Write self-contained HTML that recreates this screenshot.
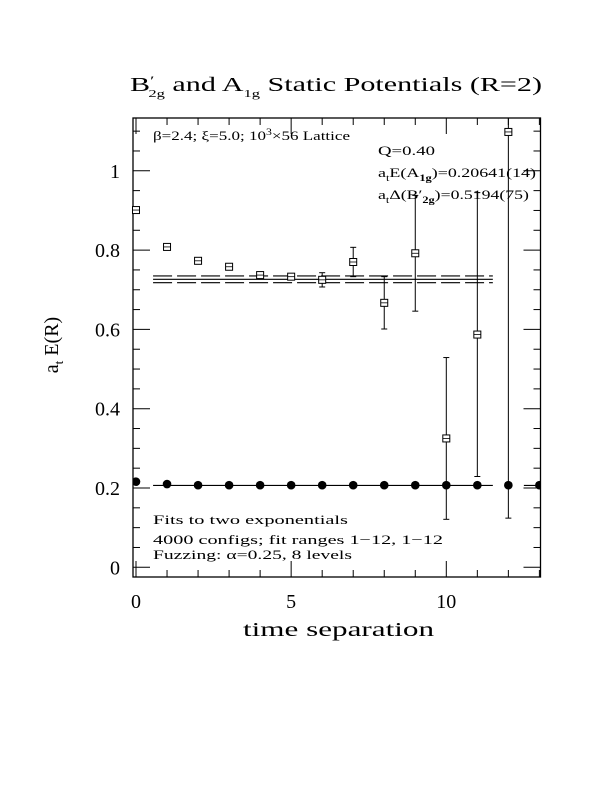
<!DOCTYPE html>
<html><head><meta charset="utf-8"><style>
body{margin:0;background:#fff;}
svg text{font-family:"Liberation Serif",serif;fill:#000;}
</style></head><body>
<svg id="chart" width="612" height="792" viewBox="0 0 612 792" xmlns="http://www.w3.org/2000/svg">
<text x="130" y="91" font-size="20" textLength="412" lengthAdjust="spacingAndGlyphs">B<tspan dy="-6" font-size="13">′</tspan><tspan dy="12" dx="-4" font-size="11">2g</tspan><tspan dy="-6"> and A</tspan><tspan dy="6" font-size="11">1g</tspan><tspan dy="-6"> Static Potentials (R=2)</tspan></text>
<g id="plot"></g>
<text x="243" y="636" font-size="20" textLength="191" lengthAdjust="spacingAndGlyphs">time separation</text>
<text transform="translate(58,345) rotate(-90)" font-size="20" text-anchor="middle">a<tspan dy="5" font-size="13">t</tspan><tspan dy="-5"> E(R)</tspan></text>
<text x="153" y="140" font-size="13" textLength="197" lengthAdjust="spacingAndGlyphs">β=2.4; ξ=5.0; 10<tspan dy="-5" font-size="9">3</tspan><tspan dy="5">×56 Lattice</tspan></text>
<text x="378" y="155" font-size="13" textLength="57" lengthAdjust="spacingAndGlyphs">Q=0.40</text>
<text x="378" y="177" font-size="13" textLength="158" lengthAdjust="spacingAndGlyphs">a<tspan dy="4" font-size="9">t</tspan><tspan dy="-4">E(A</tspan><tspan dy="4" font-size="9" font-weight="bold">1g</tspan><tspan dy="-4">)=0.20641(14)</tspan></text>
<text x="378" y="199" font-size="13" textLength="151" lengthAdjust="spacingAndGlyphs">a<tspan dy="4" font-size="9">t</tspan><tspan dy="-4">Δ(B′</tspan><tspan dy="4" font-size="9" font-weight="bold">2g</tspan><tspan dy="-4">)=0.5194(75)</tspan></text>
<text x="153" y="524" font-size="13" textLength="195" lengthAdjust="spacingAndGlyphs">Fits to two exponentials</text>
<text x="153" y="544" font-size="13" textLength="290" lengthAdjust="spacingAndGlyphs">4000 configs; fit ranges 1−12, 1−12</text>
<text x="153" y="559" font-size="13" textLength="199" lengthAdjust="spacingAndGlyphs">Fuzzing: α=0.25, 8 levels</text>
</svg>
<script>
const NS="http://www.w3.org/2000/svg";
const xTicksMajor=[0,5,10];
const yTicksMajor=[0,0.2,0.4,0.6,0.8,1];
const yTickLabels=["0","0.2","0.4","0.6","0.8","1"];
const a1gT=[0,1,2,3,4,5,6,7,8,9,10,11,12,13];
const a1gE=[0.216,0.210,0.207,0.207,0.207,0.207,0.207,0.207,0.207,0.207,0.207,0.207,0.207,0.207];
const b2gT=[0,1,2,3,4,5,6,7,8,9,10,11,12];
const b2gE=[0.901,0.808,0.773,0.758,0.737,0.733,0.725,0.770,0.667,0.792,0.325,0.587,1.098];
const b2gErr=[0.004,0.004,0.004,0.003,0.008,0.006,0.018,0.037,0.066,0.146,0.204,0.358,0.974];
const a1gFit=0.2064;
const b2gFit=0.7263, b2gFitErr=0.0085;
const L=133,R=540.5,T=118,B=577;
const X=v=>136+v*31.03, Y=v=>567.3-v*396.5;
const g=document.getElementById('plot');
function el(tag,attrs,name){const e=document.createElementNS(NS,tag);for(const k in attrs)e.setAttribute(k,attrs[k]);


g.appendChild(e);return e;}
const clip=document.createElementNS(NS,'clipPath');clip.setAttribute('id','cp');
const cr=document.createElementNS(NS,'rect');cr.setAttribute('x',L);cr.setAttribute('y',T);cr.setAttribute('width',R-L);cr.setAttribute('height',B-T);clip.appendChild(cr);g.appendChild(clip);
el('rect',{x:L,y:T,width:R-L,height:B-T,fill:'none',stroke:'#000','stroke-width':1.3},'plot-frame');
for(let t=0;t<=13;t++){const major=xTicksMajor.includes(t);const len=major?16:7;
el('line',{x1:X(t),x2:X(t),y1:B,y2:B-len,stroke:'#000'},'x-tick');
el('line',{x1:X(t),x2:X(t),y1:T,y2:T+len,stroke:'#000'},'x-tick-top');}
xTicksMajor.forEach(t=>{const tx=el('text',{x:X(t),y:608,'font-size':20,'text-anchor':'middle'},'x-tick-label');tx.textContent=t;});
for(let i=0;i<=22;i++){const v=i*0.05;const major=i%4===0;const len=major?17:7;
el('line',{x1:L,x2:L+len,y1:Y(v),y2:Y(v),stroke:'#000'},'y-tick');
el('line',{x1:R,x2:R-len,y1:Y(v),y2:Y(v),stroke:'#000'},'y-tick-right');}
yTicksMajor.forEach((v,i)=>{const tx=el('text',{x:120,y:Y(v)+7,'font-size':20,'text-anchor':'end'},'y-tick-label');tx.textContent=yTickLabels[i];});
el('line',{x1:X(0.55),x2:X(11.5),y1:Y(a1gFit),y2:Y(a1gFit),stroke:'#000','stroke-width':1.2},'a1g-fit-line');
el('line',{x1:X(12.5),x2:R,y1:Y(a1gFit),y2:Y(a1gFit),stroke:'#000','stroke-width':1.2},'a1g-fit-line-tail');
el('line',{x1:X(0.55),x2:X(11.5),y1:Y(b2gFit),y2:Y(b2gFit),stroke:'#000','stroke-width':1.2},'b2g-fit-line');
el('line',{x1:X(0.55),x2:X(11.5),y1:Y(b2gFit+b2gFitErr),y2:Y(b2gFit+b2gFitErr),stroke:'#000','stroke-width':1.2,'stroke-dasharray':'19,5'},'b2g-fit-upper');
el('line',{x1:X(0.55),x2:X(11.5),y1:Y(b2gFit-b2gFitErr),y2:Y(b2gFit-b2gFitErr),stroke:'#000','stroke-width':1.2,'stroke-dasharray':'19,5'},'b2g-fit-lower');
b2gT.forEach((t,i)=>{const cx=X(t),cy=Y(b2gE[i]);const lo=Y(b2gE[i]-b2gErr[i]),hi=Y(b2gE[i]+b2gErr[i]);
el('line',{x1:cx,x2:cx,y1:lo,y2:hi,stroke:'#000','clip-path':'url(#cp)'},'b2g-error-bar');
if(b2gErr[i]>0.01){el('line',{x1:cx-3,x2:cx+3,y1:lo,y2:lo,stroke:'#000'},'b2g-error-cap');
if(hi>T)el('line',{x1:cx-3,x2:cx+3,y1:hi,y2:hi,stroke:'#000'},'b2g-error-cap');}
el('rect',{x:cx-3.5,y:cy-3.5,width:7,height:7,fill:'#fff',stroke:'#000','stroke-width':1},'b2g-point');
el('line',{x1:cx-3.5,x2:cx+3.5,y1:cy,y2:cy,stroke:'#000','stroke-width':0.8},'b2g-point-mark');});
a1gT.forEach((t,i)=>{el('circle',{cx:X(t),cy:Y(a1gE[i]),r:4.3,fill:'#000','clip-path':'url(#cp)'},'a1g-point');});
</script>
</body></html>
